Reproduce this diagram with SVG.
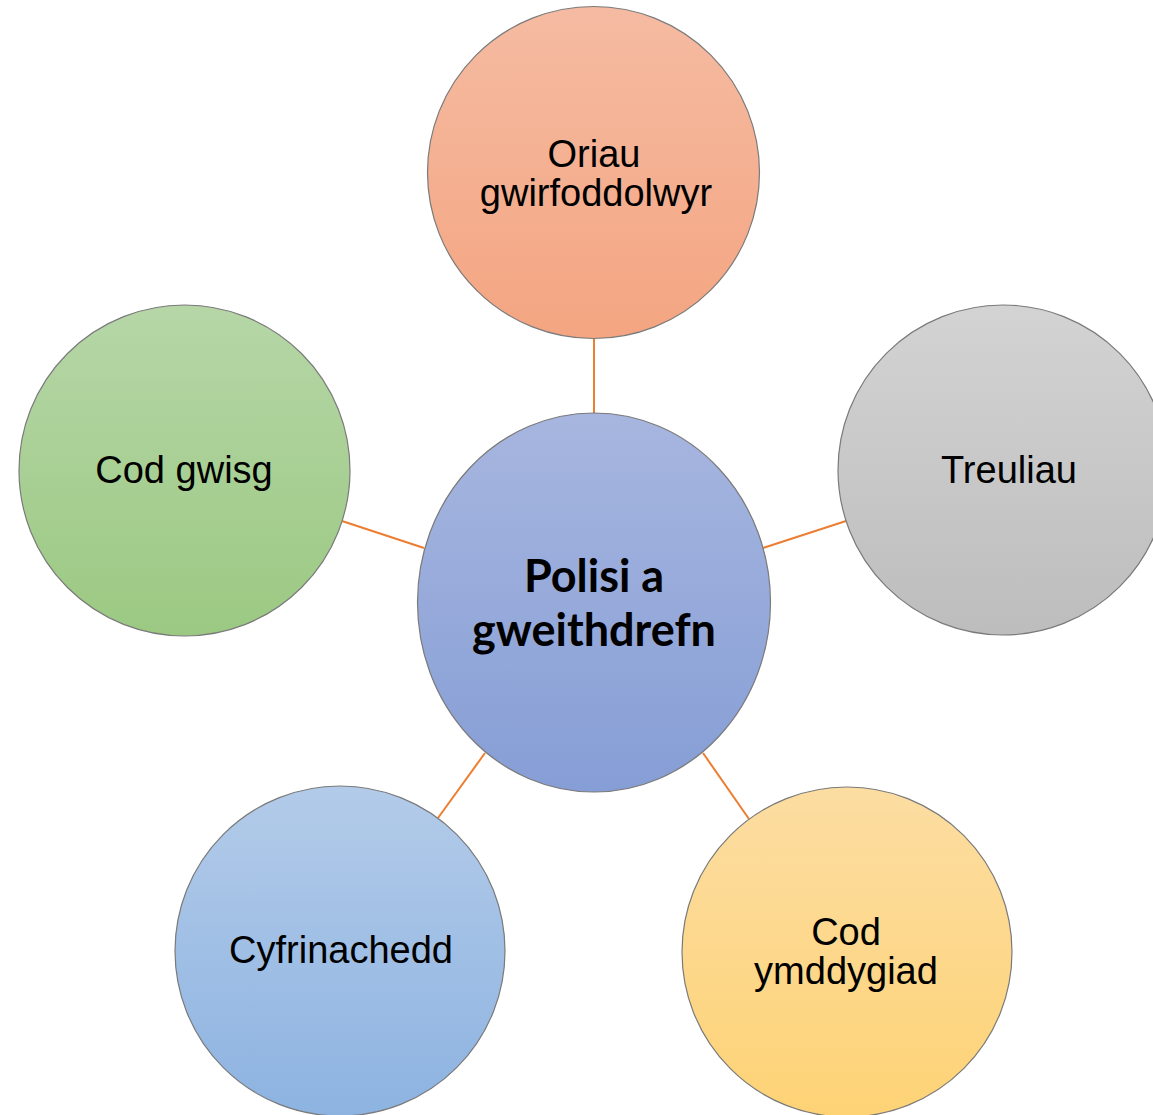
<svg xmlns="http://www.w3.org/2000/svg" width="1153" height="1115" viewBox="0 0 1153 1115">
<defs>
<linearGradient id="gTop" x1="0" y1="0" x2="0" y2="1"><stop offset="0" stop-color="#F5BBA2"/><stop offset="1" stop-color="#F4A581"/></linearGradient>
<linearGradient id="gCenter" x1="0" y1="0" x2="0" y2="1"><stop offset="0" stop-color="#A7B6DF"/><stop offset="1" stop-color="#869ED6"/></linearGradient>
<linearGradient id="gRight" x1="0" y1="0" x2="0" y2="1"><stop offset="0" stop-color="#D3D3D3"/><stop offset="1" stop-color="#BDBDBD"/></linearGradient>
<linearGradient id="gLeft" x1="0" y1="0" x2="0" y2="1"><stop offset="0" stop-color="#B6D6A7"/><stop offset="1" stop-color="#9BC982"/></linearGradient>
<linearGradient id="gBL" x1="0" y1="0" x2="0" y2="1"><stop offset="0" stop-color="#B3CBE9"/><stop offset="1" stop-color="#8DB3E1"/></linearGradient>
<linearGradient id="gBR" x1="0" y1="0" x2="0" y2="1"><stop offset="0" stop-color="#FCDDA2"/><stop offset="1" stop-color="#FED376"/></linearGradient>
</defs>
<style>
.node{stroke:#7a7a7a;stroke-width:1.2}
.lbl{font-family:"Liberation Sans",Arial,sans-serif;font-size:38px;fill:#000;text-anchor:middle}
.ctr{font-family:Lato,"Open Sans",sans-serif;font-weight:bold;font-size:45px;fill:#000;text-anchor:middle}
.conn{stroke:#ED7D31;stroke-width:2;fill:none}
</style>
<rect width="1153" height="1115" fill="#fff"/>
<g id="connectors">
<line class="conn" x1="594" y1="338" x2="594" y2="414"/>
<line class="conn" x1="342" y1="521" x2="424" y2="548"/>
<line class="conn" x1="763" y1="548" x2="846" y2="521"/>
<line class="conn" x1="485" y1="753" x2="438" y2="818"/>
<line class="conn" x1="703" y1="753" x2="749" y2="819"/>
</g>
<g id="node-top">
<circle class="node" cx="593.5" cy="172.5" r="166" fill="url(#gTop)"/>
<text class="lbl" x="594" y="167">Oriau</text>
<text class="lbl" x="596" y="206">gwirfoddolwyr</text>
</g>
<g id="node-center">
<ellipse class="node" cx="594" cy="602.5" rx="176.5" ry="189.5" fill="url(#gCenter)"/>
<text class="ctr" x="594" y="592">Polisi a</text>
<text class="ctr" x="594" y="646">gweithdrefn</text>
</g>
<g id="node-right">
<circle class="node" cx="1003" cy="470" r="165" fill="url(#gRight)"/>
<text class="lbl" x="1009" y="483">Treuliau</text>
</g>
<g id="node-left">
<circle class="node" cx="184.5" cy="470.5" r="165.5" fill="url(#gLeft)"/>
<text class="lbl" x="184" y="483">Cod gwisg</text>
</g>
<g id="node-bottom-left">
<circle class="node" cx="340" cy="951" r="165" fill="url(#gBL)"/>
<text class="lbl" x="341" y="963">Cyfrinachedd</text>
</g>
<g id="node-bottom-right">
<circle class="node" cx="847" cy="952" r="165" fill="url(#gBR)"/>
<text class="lbl" x="846" y="945">Cod</text>
<text class="lbl" x="846" y="984">ymddygiad</text>
</g>
</svg>
